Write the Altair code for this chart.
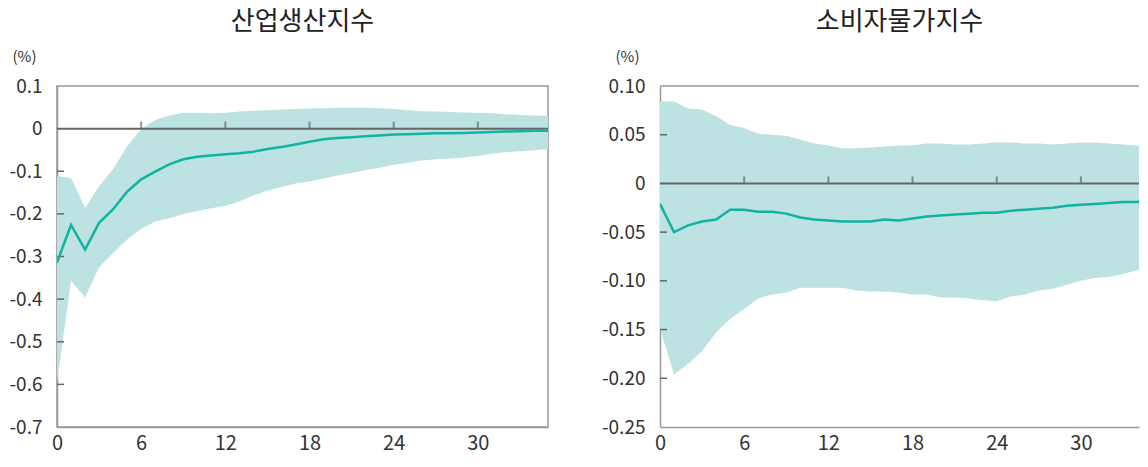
import altair as alt
import pandas as pd

FONT = "Noto Sans CJK KR"
BAND = "#bce2e1"
LINE = "#12b3a3"
AXIS = "#999999"
DARK = "#666666"
TEXT = "#333333"

months = list(range(36))
x_ticks = [0, 6, 12, 18, 24, 30]
zero_ticks = [6, 12, 18, 24, 30]

# 산업생산지수
ip_title = "산업생산지수"
ip_mid = [-0.314, -0.226, -0.284, -0.221, -0.189, -0.148, -0.119, -0.101, -0.084, -0.072,
          -0.066, -0.063, -0.060, -0.058, -0.054, -0.048, -0.043, -0.037, -0.031, -0.025,
          -0.022, -0.020, -0.018, -0.016, -0.014, -0.013, -0.012, -0.011, -0.011, -0.010,
          -0.009, -0.008, -0.007, -0.006, -0.005, -0.005]
ip_hi = [-0.112, -0.116, -0.186, -0.135, -0.095, -0.042, 0.000, 0.020, 0.031, 0.037,
         0.037, 0.036, 0.037, 0.040, 0.042, 0.043, 0.045, 0.046, 0.047, 0.048,
         0.049, 0.049, 0.049, 0.048, 0.046, 0.043, 0.041, 0.040, 0.039, 0.038,
         0.037, 0.036, 0.034, 0.032, 0.031, 0.030]
ip_lo = [-0.595, -0.357, -0.396, -0.325, -0.292, -0.260, -0.235, -0.218, -0.210, -0.200,
         -0.193, -0.187, -0.181, -0.171, -0.157, -0.146, -0.137, -0.129, -0.124, -0.117,
         -0.110, -0.104, -0.097, -0.092, -0.085, -0.080, -0.075, -0.072, -0.070, -0.068,
         -0.064, -0.059, -0.055, -0.053, -0.051, -0.048]
ip_domain = [-0.7, 0.1]
ip_yticks = [0.1, 0, -0.1, -0.2, -0.3, -0.4, -0.5, -0.6, -0.7]
ip_inner_ticks = [-0.1, -0.2, -0.3, -0.4, -0.5, -0.6]

# 소비자물가지수
cpi_title = "소비자물가지수"
cpi_mid = [-0.021, -0.050, -0.043, -0.039, -0.037, -0.027, -0.027, -0.029, -0.029, -0.031,
           -0.035, -0.037, -0.038, -0.039, -0.039, -0.039, -0.037, -0.038, -0.036, -0.034,
           -0.033, -0.032, -0.031, -0.030, -0.030, -0.028, -0.027, -0.026, -0.025, -0.023,
           -0.022, -0.021, -0.020, -0.019, -0.019, -0.016]
cpi_hi = [0.084, 0.084, 0.077, 0.076, 0.069, 0.060, 0.057, 0.051, 0.050, 0.049,
          0.045, 0.041, 0.039, 0.036, 0.036, 0.037, 0.038, 0.039, 0.039, 0.041,
          0.041, 0.040, 0.040, 0.041, 0.042, 0.042, 0.041, 0.041, 0.040, 0.041,
          0.042, 0.042, 0.041, 0.040, 0.039, 0.037]
cpi_lo = [-0.149, -0.196, -0.185, -0.172, -0.153, -0.139, -0.129, -0.118, -0.114, -0.112,
          -0.107, -0.107, -0.107, -0.107, -0.110, -0.111, -0.111, -0.112, -0.114, -0.114,
          -0.117, -0.117, -0.118, -0.120, -0.121, -0.116, -0.114, -0.110, -0.108, -0.104,
          -0.100, -0.097, -0.096, -0.093, -0.089, -0.086]
cpi_domain = [-0.25, 0.10]
cpi_yticks = [0.10, 0.05, 0, -0.05, -0.10, -0.15, -0.20, -0.25]
cpi_inner_ticks = [0.05, -0.05, -0.10, -0.15, -0.20]


def panel(title, mid, hi, lo, domain, yticks, inner, decimals, xmax, width, boxed, lpad):
    df = pd.DataFrame({"m": months, "mid": mid, "hi": hi, "lo": lo})
    xscale = alt.Scale(domain=[0, xmax], nice=False, zero=False)
    yscale = alt.Scale(domain=domain, nice=False, zero=False)
    xaxis = alt.Axis(values=x_ticks, ticks=False, grid=False, title=None,
                     labelPadding=6, labelFontSize=20, labelColor=TEXT, labelFont=FONT,
                     labelFontWeight="normal",
                     domainColor=AXIS, domainWidth=1.5, labelFlush=False)
    lab = ("datum.value == 0 ? '0' : (datum.value < 0 ? '-' : '') + format(abs(datum.value), '.%df')"
           % decimals)
    yaxis = alt.Axis(values=yticks, ticks=False, grid=False, title="(%)", titleAngle=0,
                     titleX=-33, titleY=-30, titleAlign="center", titleBaseline="middle",
                     titleFontSize=15, titleFontWeight="normal", titleColor=TEXT, titleFont=FONT,
                     labelExpr=lab, labelPadding=lpad, labelFontSize=19, labelColor=TEXT,
                     labelFont=FONT, labelFontWeight="normal",
                     domainColor=AXIS, domainWidth=1.5)

    def X(f):
        return alt.X(f, scale=xscale, axis=xaxis)

    def Y(f):
        return alt.Y(f, scale=yscale, axis=yaxis)

    base = alt.Chart(df)
    band = base.mark_area(color=BAND, opacity=1, clip=True).encode(
        x=X("m:Q"), y=Y("lo:Q"), y2="hi:Q")
    zero = alt.Chart(pd.DataFrame({"z": [0]})).mark_rule(color=DARK, strokeWidth=2).encode(
        y=Y("z:Q")
    )
    zt = alt.Chart(pd.DataFrame({"t": zero_ticks, "z": [0] * len(zero_ticks)})).mark_tick(
        orient="vertical", size=7, thickness=2, yOffset=-3.5, color=DARK
    ).encode(x=X("t:Q"), y=Y("z:Q"))
    yt = alt.Chart(pd.DataFrame({"v": inner})).mark_rule(color=DARK, strokeWidth=1.5).encode(
        x=alt.value(0), x2=alt.value(7), y=Y("v:Q")
    )
    line = base.mark_line(color=LINE, strokeWidth=2.5, clip=True).encode(
        x=X("m:Q"), y=Y("mid:Q"))
    layers = [band, zero, zt, yt, line]
    if not boxed:
        top = alt.Chart(pd.DataFrame({"z": [domain[1]]})).mark_rule(
            color=AXIS, strokeWidth=1.5).encode(y=Y("z:Q"))
        layers.append(top)
    ch = alt.layer(*layers).properties(
        width=width, height=341,
        title=alt.TitleParams(text=title, fontSize=26, font=FONT, fontWeight="normal",
                              color="#222222", anchor="middle", offset=14),
    )
    if not boxed:
        ch = ch.properties(view=alt.ViewBackground(strokeWidth=0))
    return ch


left = panel(ip_title, ip_mid, ip_hi, ip_lo, ip_domain, ip_yticks, ip_inner_ticks, 1,
             35, 491, True, 15)
right = panel(cpi_title, cpi_mid, cpi_hi, cpi_lo, cpi_domain, cpi_yticks, cpi_inner_ticks, 2,
              34.14, 479, False, 15)

chart = alt.hconcat(left, right, spacing=51).configure_view(
    stroke=AXIS, strokeWidth=1.5
).properties(padding={"left": 0, "top": 0, "right": 0, "bottom": 0})

chart.save("out.html", embed_options={"renderer": "svg", "actions": False})
